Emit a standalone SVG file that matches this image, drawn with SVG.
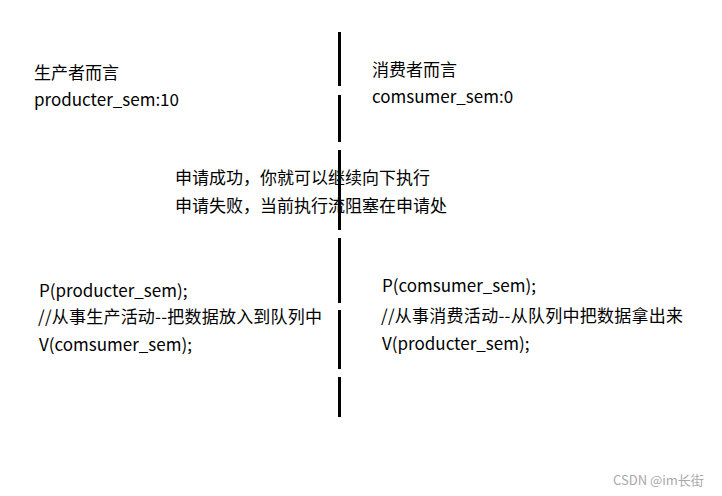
<svg xmlns="http://www.w3.org/2000/svg" width="722" height="496" viewBox="0 0 722 496">
<style>
text{font-family:"Noto Sans CJK SC","Noto Sans",sans-serif;font-size:17px;fill:#000}
.wm{font-size:13px;fill:#a8a8a8}
.div{stroke:#000;stroke-width:3}
</style>
<rect width="722" height="496" fill="#fff"/>
<g id="connectors">
<line class="div" x1="339.5" y1="32" x2="339.5" y2="86"/>
<line class="div" x1="339.5" y1="95" x2="339.5" y2="142"/>
<line class="div" x1="339.5" y1="150" x2="339.5" y2="230"/>
<line class="div" x1="339.5" y1="238" x2="339.5" y2="303"/>
<line class="div" x1="339.5" y1="310" x2="339.5" y2="369"/>
<line class="div" x1="339.5" y1="377" x2="339.5" y2="417"/>
</g>
<g id="producer-header">
<text x="34" y="79">生产者而言</text>
<text x="34" y="106">producter_sem:10</text>
</g>
<g id="consumer-header">
<text x="372" y="76">消费者而言</text>
<text x="372" y="103">comsumer_sem:0</text>
</g>
<g id="note">
<text x="175" y="184">申请成功，你就可以继续向下执行</text>
<text x="175" y="212">申请失败，当前执行流阻塞在申请处</text>
</g>
<g id="producer-code">
<text x="39" y="297">P(producter_sem);</text>
<text x="38" y="323" textLength="284">//从事生产活动--把数据放入到队列中</text>
<text x="39" y="351">V(comsumer_sem);</text>
</g>
<g id="consumer-code">
<text x="382" y="292">P(comsumer_sem);</text>
<text x="381" y="322" textLength="302">//从事消费活动--从队列中把数据拿出来</text>
<text x="382" y="350">V(producter_sem);</text>
</g>
<text class="wm" x="613" y="485">CSDN @im长街</text>
</svg>
